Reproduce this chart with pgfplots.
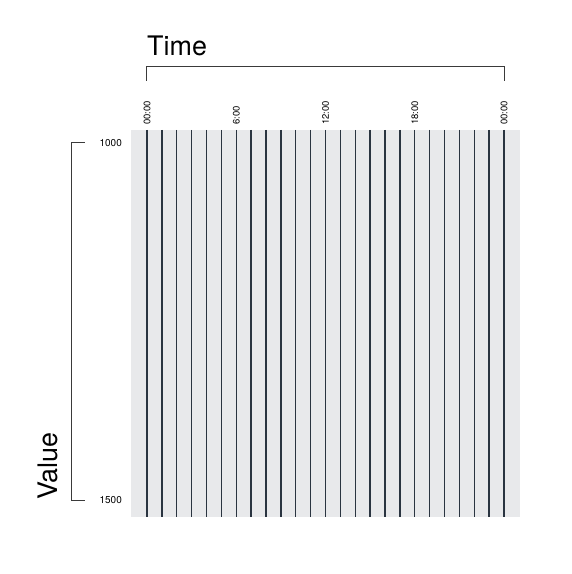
\documentclass[border=0pt]{standalone}
\usepackage{pgfplots}
\pgfplotsset{compat=1.18}
\usepackage{fontspec}
\setmainfont{TeX Gyre Heros}
\definecolor{bgc}{HTML}{E8E9EB}
\definecolor{linec}{HTML}{2A3440}
\definecolor{axc}{HTML}{3A3A3A}
\begin{document}
\begin{tikzpicture}
\path[use as bounding box] (-131bp,-57bp) rectangle (441bp,517bp);
\begin{axis}[
  at={(0,0)}, anchor=south west,
  scale only axis, width=389bp, height=387bp,
  xmin=-1.0756, xmax=25.0756,
  ymin=981.8, ymax=1523.8, y dir=reverse,
  axis line style={draw=none},
  axis background/.style={fill=bgc},
  xtick={0,6,12,18,24}, xticklabels={00:00,6:00,12:00,18:00,00:00},
  xticklabel pos=upper,
  xtick style={draw=none}, ytick style={draw=none},
  ytick={1000,1500},
  /pgf/number format/assume math mode=true,
  /pgf/number format/1000 sep={},
  xticklabel style={font=\fontsize{9.5}{10}\selectfont, yshift=5bp, rotate=90, anchor=west, inner sep=0pt},
  yticklabel style={font=\fontsize{10}{11}\selectfont, anchor=east, inner sep=0pt, xshift=-9bp},
  clip=false,
]
\addplot[color=linec, line width=1.3bp, unbounded coords=jump] table {
x y
0 981.8
0 1523.8
0 nan
1 981.8
1 1523.8
1 nan
2 981.8
2 1523.8
2 nan
3 981.8
3 1523.8
3 nan
4 981.8
4 1523.8
4 nan
5 981.8
5 1523.8
5 nan
6 981.8
6 1523.8
6 nan
7 981.8
7 1523.8
7 nan
8 981.8
8 1523.8
8 nan
9 981.8
9 1523.8
9 nan
10 981.8
10 1523.8
10 nan
11 981.8
11 1523.8
11 nan
12 981.8
12 1523.8
12 nan
13 981.8
13 1523.8
13 nan
14 981.8
14 1523.8
14 nan
15 981.8
15 1523.8
15 nan
16 981.8
16 1523.8
16 nan
17 981.8
17 1523.8
17 nan
18 981.8
18 1523.8
18 nan
19 981.8
19 1523.8
19 nan
20 981.8
20 1523.8
20 nan
21 981.8
21 1523.8
21 nan
22 981.8
22 1523.8
22 nan
23 981.8
23 1523.8
23 nan
24 981.8
24 1523.8
};
\draw[axc, line width=1bp] ([yshift=49bp]axis cs:0,981.8) -- ([yshift=63bp]axis cs:0,981.8) -- ([yshift=63bp]axis cs:24,981.8) -- ([yshift=49bp]axis cs:24,981.8);
\draw[axc, line width=1bp] ([xshift=-46bp]axis cs:-1.0756,1000) -- ([xshift=-59.5bp]axis cs:-1.0756,1000) -- ([xshift=-59.5bp]axis cs:-1.0756,1500) -- ([xshift=-46bp]axis cs:-1.0756,1500);
\node[anchor=base west, inner sep=0pt, font=\fontsize{27}{30}\selectfont] at ([yshift=74bp]axis cs:0,981.8) {Time};
\node[anchor=base west, rotate=90, inner sep=0pt, font=\fontsize{27}{30}\selectfont] at ([xshift=-73bp]axis cs:-1.0756,1500) {Value};
\end{axis}
\end{tikzpicture}
\end{document}
